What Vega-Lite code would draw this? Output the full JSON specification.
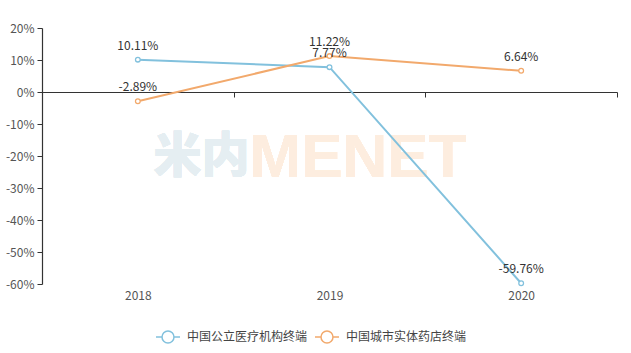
{
  "$schema": "https://vega.github.io/schema/vega-lite/v6.json",
  "width": 575,
  "height": 256,
  "autosize": "none",
  "padding": {"left": 42, "top": 28, "right": 14, "bottom": 69},
  "background": "white",
  "config": {
    "font": "Noto Sans CJK SC",
    "locale": {"number": {"decimal": ".", "thousands": ",", "grouping": [3], "currency": ["$", ""], "minus": "-"}},
    "view": {"stroke": null},
    "axis": {"labelFont": "Noto Sans CJK SC", "labelFontSize": 12, "labelColor": "#555", "title": null},
    "axisX": {
      "orient": "bottom", "offset": -192, "labelAngle": 0,
      "domainColor": "#333", "domainWidth": 1.2, "tickColor": "#333", "tickSize": 5,
      "tickBand": "extent", "labelPadding": 193, "grid": false
    },
    "axisY": {
      "format": ".0%", "tickCount": 9, "labelOverlap": false,
      "domainColor": "#333", "domainWidth": 1.2, "tickColor": "#333", "tickSize": 5,
      "labelPadding": 3, "gridColor": "#ebebeb", "gridWidth": 1
    }
  },
  "data": {
    "values": [
      {"year": "2018", "series": "中国公立医疗机构终端", "value": 0.1011},
      {"year": "2019", "series": "中国公立医疗机构终端", "value": 0.0777},
      {"year": "2020", "series": "中国公立医疗机构终端", "value": -0.5976},
      {"year": "2018", "series": "中国城市实体药店终端", "value": -0.0289},
      {"year": "2019", "series": "中国城市实体药店终端", "value": 0.1122},
      {"year": "2020", "series": "中国城市实体药店终端", "value": 0.0664}
    ]
  },
  "layer": [
    {
      "mark": {"type": "text", "fontSize": 48, "fontWeight": 900, "font": "Noto Sans CJK SC", "align": "right", "baseline": "middle", "dx": -80},
      "encoding": {
        "x": {"datum": "2019", "type": "ordinal", "scale": {"type": "band", "paddingInner": 0, "paddingOuter": 0}},
        "y": {"datum": -0.205, "type": "quantitative", "scale": {"domain": [-0.6, 0.2], "nice": false}, "axis": {"values": [-0.6, -0.5, -0.4, -0.3, -0.2, -0.1, 0, 0.1, 0.2], "format": ".0%", "tickCount": 9}},
        "text": {"value": "米内"},
        "color": {"value": "#e5eef2"}
      }
    },
    {
      "mark": {"type": "text", "fontSize": 62, "fontWeight": "bold", "font": "Liberation Sans", "align": "left", "baseline": "middle", "dx": -80},
      "encoding": {
        "x": {"datum": "2019", "type": "ordinal"},
        "y": {"datum": -0.205, "type": "quantitative", "axis": {"values": [-0.6, -0.5, -0.4, -0.3, -0.2, -0.1, 0, 0.1, 0.2], "format": ".0%", "tickCount": 9}},
        "text": {"value": "MENET"},
        "color": {"value": "#fdeddf"}
      }
    },
    {
      "mark": {"type": "line", "strokeWidth": 2, "point": {"filled": false, "fill": "white", "size": 22, "strokeWidth": 1.3}},
      "encoding": {
        "x": {"field": "year", "type": "ordinal"},
        "y": {"field": "value", "type": "quantitative", "axis": {"values": [-0.6, -0.5, -0.4, -0.3, -0.2, -0.1, 0, 0.1, 0.2], "format": ".0%", "tickCount": 9}},
        "color": {
          "field": "series", "type": "nominal",
          "scale": {"domain": ["中国公立医疗机构终端", "中国城市实体药店终端"], "range": ["#82c1dd", "#f2a96c"]},
          "legend": {
            "title": null, "orient": "none", "direction": "horizontal",
            "legendX": 113, "legendY": 296,
            "symbolType": "M-1,0L-0.5,0M0.5,0L1,0M-0.5,0A0.5,0.5 0 1 1 0.5,0A0.5,0.5 0 1 1 -0.5,0",
            "symbolSize": 576, "symbolStrokeWidth": 1.5,
            "labelFontSize": 12, "labelColor": "#444", "labelFont": "Noto Sans CJK SC",
            "columnPadding": 4, "labelOffset": 6,
            "encode": {"symbols": {"update": {"fill": {"value": "white"}}}}
          }
        }
      }
    },
    {
      "mark": {"type": "text", "dy": -14, "fontSize": 12, "color": "#333"},
      "encoding": {
        "x": {"field": "year", "type": "ordinal"},
        "y": {"field": "value", "type": "quantitative"},
        "text": {"field": "value", "format": ".2%"},
        "color": {"value": "#333"}
      }
    }
  ]
}
